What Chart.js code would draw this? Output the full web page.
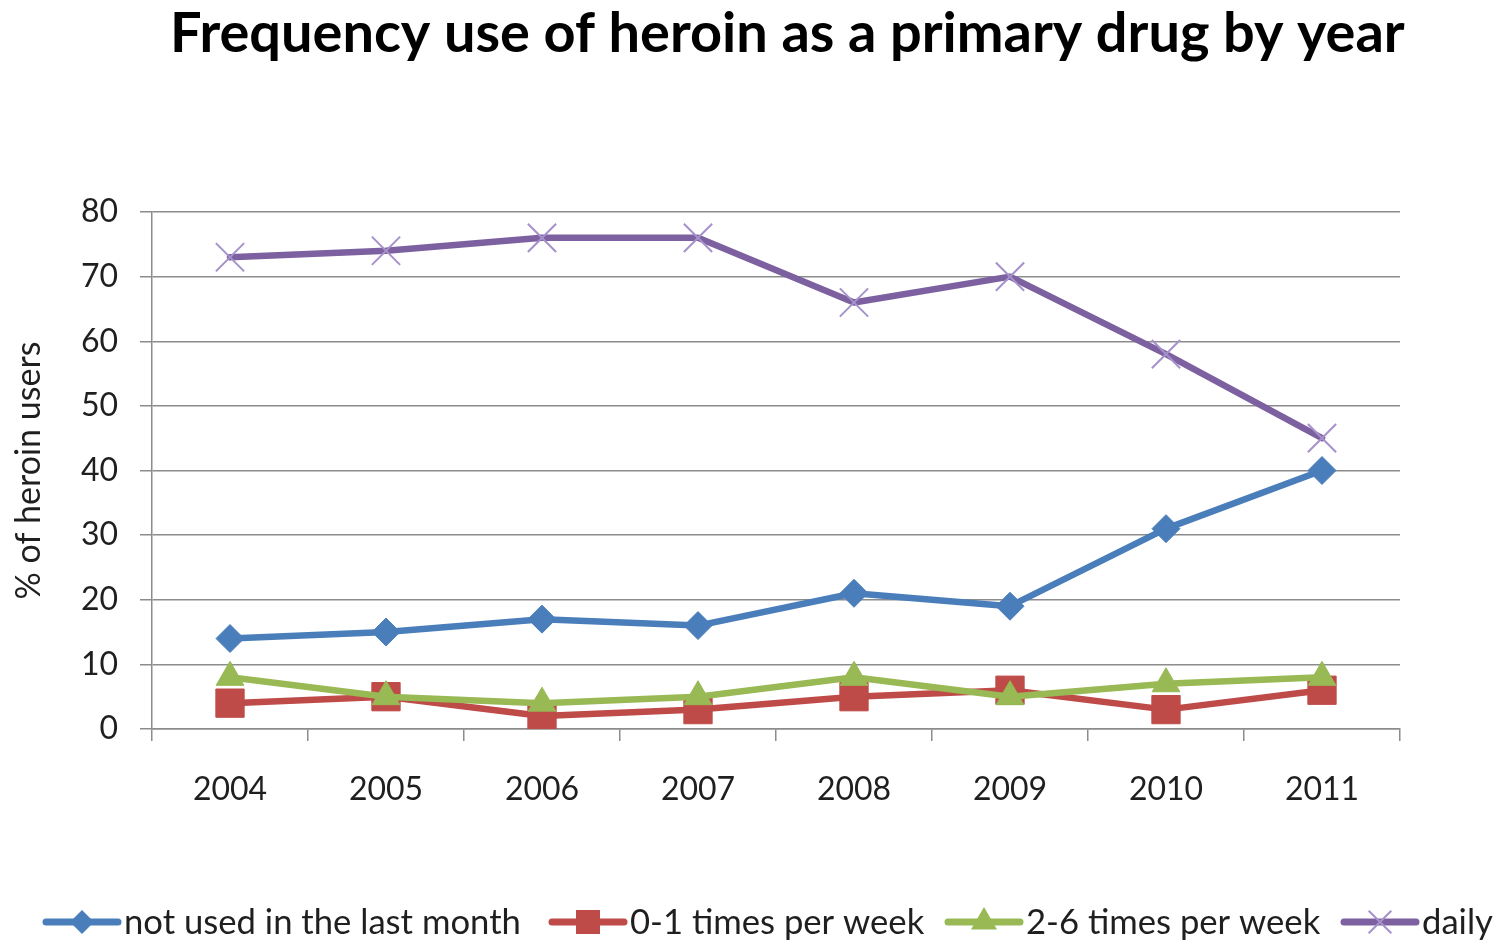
<!DOCTYPE html>
<html>
<head>
<meta charset="utf-8">
<script src="https://cdn.jsdelivr.net/npm/chart.js@4/dist/chart.umd.min.js"></script>
<style>
  html, body { margin: 0; padding: 0; background: #ffffff; }
  #wrap { width: 1503px; height: 941px; }
</style>
</head>
<body>
<div id="wrap"><canvas id="c" width="1503" height="941"></canvas></div>
<script>
const titleText = 'Frequency use of heroin as a primary drug by year';
const yAxisTitle = '% of heroin users';
const years = ['2004', '2005', '2006', '2007', '2008', '2009', '2010', '2011'];
const seriesNames = ['not used in the last month', '0-1 times per week', '2-6 times per week', 'daily'];
const notUsed = [14, 15, 17, 16, 21, 19, 31, 40];
const zeroOne = [4, 5, 2, 3, 5, 6, 3, 6];
const twoSix = [8, 5, 4, 5, 8, 5, 7, 8];
const daily = [73, 74, 76, 76, 66, 70, 58, 45];
const yMin = 0, yMax = 80, yStep = 10;

const FONT = 'Lato, "Open Sans", "DejaVu Sans", sans-serif';
const TEXT = '#1f1f1f';
const GRID = '#8c8c8c';

const styles = [
  { color: '#4A7EBB', marker: 'rectRot', radius: 14, mColor: '#4A7EBB', mWidth: 1 },
  { color: '#BE4B48', marker: 'rect', radius: 20, mColor: '#BE4B48', mWidth: 1 },
  { color: '#98B954', marker: 'triangle', radius: 16, mColor: '#98B954', mWidth: 1 },
  { color: '#7D60A0', marker: 'crossRot', radius: 20, mColor: '#A592CB', mWidth: 2 }
];
const values = [notUsed, zeroOne, twoSix, daily];

const datasets = values.map((v, i) => ({
  label: seriesNames[i],
  data: v,
  borderColor: styles[i].color,
  backgroundColor: styles[i].mColor,
  borderWidth: 6.5,
  pointStyle: styles[i].marker,
  pointRadius: styles[i].radius,
  pointHoverRadius: styles[i].radius,
  pointBackgroundColor: styles[i].mColor,
  pointBorderColor: styles[i].mColor,
  pointBorderWidth: styles[i].mWidth,
  borderJoinStyle: 'round',
  borderCapStyle: 'round',
  tension: 0,
  order: values.length - i
}));

function fitFont(ctx, text, weight, target) {
  ctx.font = weight + ' 50px ' + FONT;
  const w = ctx.measureText(text).width;
  return 50 * target / w;
}

function drawMarker(ctx, style, x, y, r) {
  ctx.save();
  ctx.fillStyle = style.mColor;
  ctx.strokeStyle = style.mColor;
  ctx.lineWidth = style.mWidth;
  ctx.beginPath();
  if (style.marker === 'rectRot') {
    ctx.moveTo(x - r, y); ctx.lineTo(x, y - r); ctx.lineTo(x + r, y); ctx.lineTo(x, y + r); ctx.closePath();
    ctx.fill();
  } else if (style.marker === 'rect') {
    const s = r * Math.SQRT1_2;
    ctx.rect(x - s, y - s, 2 * s, 2 * s);
    ctx.fill();
  } else if (style.marker === 'triangle') {
    ctx.moveTo(x, y - r);
    ctx.lineTo(x + r * Math.sqrt(3) / 2, y + r / 2);
    ctx.lineTo(x - r * Math.sqrt(3) / 2, y + r / 2);
    ctx.closePath();
    ctx.fill();
  } else {
    const s = r * Math.SQRT1_2;
    ctx.moveTo(x - s, y - s); ctx.lineTo(x + s, y + s);
    ctx.moveTo(x + s, y - s); ctx.lineTo(x - s, y + s);
    ctx.stroke();
  }
  ctx.restore();
}

const legendStarts = [42, 548, 944, 1340];
const legendMarkerR = [12, 17, 15, 16];

const decorPlugin = {
  id: 'decor',
  afterDraw(chart) {
    const ctx = chart.ctx;
    // Title
    ctx.save();
    const tSize = fitFont(ctx, titleText, 'bold', 1235);
    ctx.font = 'bold ' + tSize + 'px ' + FONT;
    ctx.fillStyle = '#000';
    ctx.textAlign = 'left';
    ctx.textBaseline = 'alphabetic';
    ctx.fillText(titleText, 170, 52);
    ctx.restore();

    // Legend
    ctx.save();
    const lSize = fitFont(ctx, seriesNames[0], 'normal', 397);
    ctx.font = lSize + 'px ' + FONT;
    ctx.fillStyle = TEXT;
    ctx.textBaseline = 'middle';
    ctx.textAlign = 'left';
    const ly = 922;
    const symW = 80, gapText = 2;
    seriesNames.forEach((n, i) => {
      const st = styles[i];
      const x = legendStarts[i];
      ctx.save();
      ctx.strokeStyle = st.color;
      ctx.lineWidth = 7;
      ctx.lineCap = 'round';
      ctx.beginPath();
      ctx.moveTo(x + 4, ly);
      ctx.lineTo(x + symW - 4, ly);
      ctx.stroke();
      ctx.restore();
      drawMarker(ctx, st, x + symW / 2, ly, legendMarkerR[i]);
      ctx.fillText(n, x + symW + gapText, ly + 1);
    });
    ctx.restore();
  }
};

new Chart(document.getElementById('c'), {
  type: 'line',
  data: { labels: years, datasets: datasets },
  plugins: [decorPlugin],
  options: {
    responsive: false,
    animation: false,
    events: [],
    layout: { padding: { top: 212, left: 0, right: 103, bottom: 112 } },
    plugins: {
      legend: { display: false },
      title: { display: false },
      tooltip: { enabled: false }
    },
    scales: {
      x: {
        type: 'category',
        offset: true,
        afterFit(scale) { scale.height = 100; },
        grid: {
          display: true,
          offset: true,
          drawOnChartArea: false,
          drawTicks: true,
          tickLength: 12,
          color: GRID,
          lineWidth: 1.5
        },
        border: { display: true, color: GRID, width: 1.5 },
        ticks: {
          color: TEXT,
          font: { family: FONT, size: 32 },
          padding: 29,
          maxRotation: 0,
          autoSkip: false
        }
      },
      y: {
        min: yMin,
        max: yMax,
        afterFit(scale) { scale.width = 152; },
        grid: {
          color: GRID,
          lineWidth: 1.5,
          drawTicks: true,
          tickLength: 12
        },
        border: { display: true, color: GRID, width: 1.5 },
        ticks: {
          stepSize: yStep,
          color: TEXT,
          font: { family: FONT, size: 32 },
          padding: 22
        },
        title: {
          display: true,
          text: yAxisTitle,
          color: TEXT,
          font: { family: FONT, size: 34 },
          padding: { top: 9, bottom: 0 }
        }
      }
    }
  }
});
</script>
</body>
</html>
